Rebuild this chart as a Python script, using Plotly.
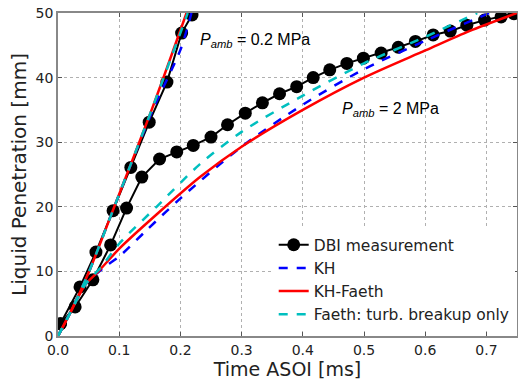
import plotly.graph_objects as go

# ---- DBI measurements ----
dbi_low_t = [0.004, 0.036, 0.062, 0.090, 0.119, 0.149, 0.178, 0.202, 0.219]
dbi_low_y = [1.9, 7.6, 13.0, 19.4, 26.1, 33.1, 39.3, 46.9, 49.7]
dbi_high_t = [0.004, 0.028, 0.057, 0.086, 0.112, 0.137, 0.166, 0.194, 0.221, 0.250, 0.277,
              0.306, 0.334, 0.362, 0.390, 0.417, 0.444, 0.472, 0.499, 0.528, 0.556, 0.584,
              0.613, 0.641, 0.668, 0.697, 0.724, 0.745]
dbi_high_y = [1.9, 4.5, 8.7, 14.1, 19.8, 24.6, 27.4, 28.5, 29.5, 30.8, 32.7,
              34.5, 36.1, 37.5, 38.6, 40.0, 41.2, 42.2, 43.0, 43.8, 44.7, 45.6,
              46.6, 47.2, 48.1, 48.9, 49.4, 49.9]

# ---- KH model ----
kh_low_t = [0.0, 0.02, 0.05, 0.092, 0.155, 0.200, 0.218]
kh_low_y = [0.0, 3.6, 9.8, 20.0, 35.0, 44.3, 50.0]
kh_high_t = [0.0, 0.02, 0.045, 0.075, 0.101, 0.145, 0.200, 0.300, 0.400, 0.500, 0.600, 0.705]
kh_high_y = [0.0, 3.6, 8.0, 10.6, 12.4, 16.4, 21.3, 29.3, 35.8, 41.3, 45.7, 50.0]

# ---- KH-Faeth model ----
khf_low_t = [0.0, 0.02, 0.05, 0.092, 0.153, 0.210]
khf_low_y = [0.0, 3.6, 9.8, 20.0, 35.0, 50.0]
khf_high_t = [0.0, 0.02, 0.045, 0.064, 0.101, 0.161, 0.232, 0.300, 0.400, 0.500, 0.600,
              0.672, 0.750]
khf_high_y = [0.0, 3.6, 8.0, 9.8, 13.6, 18.8, 24.6, 29.3, 35.0, 40.0, 44.2,
              47.2, 50.0]

# ---- Faeth: turbulent breakup only ----
fa_low_t = [0.0, 0.02, 0.05, 0.092, 0.153, 0.212]
fa_low_y = [0.0, 3.6, 9.8, 20.0, 35.0, 50.0]
fa_high_t = [0.0, 0.02, 0.045, 0.069, 0.101, 0.161, 0.232, 0.300, 0.400, 0.500, 0.600, 0.685]
fa_high_y = [0.0, 3.6, 8.0, 10.5, 14.4, 20.0, 26.6, 31.6, 37.2, 42.2, 46.3, 50.0]

x_ticks = [0.0, 0.1, 0.2, 0.3, 0.4, 0.5, 0.6, 0.7]
y_ticks = [0, 10, 20, 30, 40, 50]


def join(a, b):
    return list(a) + [None] + list(b)


fig = go.Figure()
fig.add_trace(go.Scatter(x=join(dbi_low_t, dbi_high_t), y=join(dbi_low_y, dbi_high_y),
                         mode="lines+markers", name="DBI measurement",
                         line=dict(color="black", width=2),
                         marker=dict(color="black", size=13), connectgaps=False))
fig.add_trace(go.Scatter(x=join(kh_low_t, kh_high_t), y=join(kh_low_y, kh_high_y),
                         mode="lines", name="KH",
                         line=dict(color="#0000ff", width=2.5, dash="dash",
                                   shape="spline", smoothing=0.8), connectgaps=False))
fig.add_trace(go.Scatter(x=join(khf_low_t, khf_high_t), y=join(khf_low_y, khf_high_y),
                         mode="lines", name="KH-Faeth",
                         line=dict(color="#ff0000", width=2.5, shape="spline", smoothing=0.8),
                         connectgaps=False))
fig.add_trace(go.Scatter(x=join(fa_low_t, fa_high_t), y=join(fa_low_y, fa_high_y),
                         mode="lines", name="Faeth: turb. breakup only",
                         line=dict(color="#00bfbf", width=2.5, dash="dash",
                                   shape="spline", smoothing=0.8), connectgaps=False))

axis_common = dict(showline=True, mirror="ticks", linecolor="#888888", linewidth=1.5,
                   showgrid=True, gridcolor="#b0b0b0", griddash="dot", gridwidth=1,
                   zeroline=False, ticks="inside", ticklen=4, tickcolor="#555555",
                   automargin=False,
                   tickfont=dict(family="DejaVu Sans", size=14, color="#222222"))

fig.update_xaxes(range=[0, 0.75], tickvals=x_ticks, ticktext=[f"{v:.1f}" for v in x_ticks],
                 title=dict(text="Time ASOI [ms]", standoff=4,
                            font=dict(family="DejaVu Sans", size=19, color="#222222")),
                 **axis_common)
fig.update_yaxes(range=[0, 50], tickvals=y_ticks, ticktext=[str(v) for v in y_ticks],
                 title=dict(text="Liquid Penetration [mm]", standoff=4,
                            font=dict(family="DejaVu Sans", size=20, color="#222222")),
                 **axis_common)

fig.add_annotation(x=0.228, y=45.8, xref="x", yref="y", xanchor="left", yanchor="middle",
                   text="<i>P</i><sub><i>amb</i></sub> = 0.2 MPa", showarrow=False,
                   font=dict(family="Liberation Sans", size=16, color="black"))
fig.add_annotation(x=0.460, y=35.0, xref="x", yref="y", xanchor="left", yanchor="middle",
                   text="<i>P</i><sub><i>amb</i></sub> = 2 MPa", showarrow=False,
                   font=dict(family="Liberation Sans", size=16, color="black"))

fig.update_layout(width=518, height=383,
                  margin=dict(l=58, r=1, t=13, b=47, autoexpand=False),
                  paper_bgcolor="white", plot_bgcolor="white",
                  legend=dict(x=0.995, y=0.015, xanchor="right", yanchor="bottom",
                              bgcolor="white", borderwidth=0, tracegroupgap=0,
                              itemwidth=30,
                              font=dict(family="DejaVu Sans", size=15.5, color="#222222")),
                  showlegend=True)

fig.write_html("out.html", config={"displayModeBar": False},
               post_script="document.body.style.margin='0';document.body.style.padding='0';")
